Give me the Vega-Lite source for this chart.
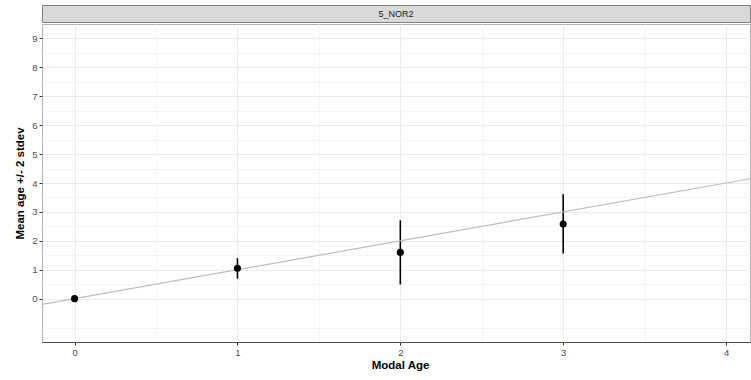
{
  "$schema": "https://vega.github.io/schema/vega-lite/v6.json",
  "padding": {"left": 14, "top": 4, "right": 0, "bottom": 0},
  "autosize": {"type": "pad"},
  "config": {
    "font": "Liberation Sans",
    "concat": {"spacing": 0},
    "view": {"stroke": null}
  },
  "spacing": 0,
  "vconcat": [
    {
      "width": 708,
      "height": 17,
      "data": {"values": [{"panel": "5_NOR2"}]},
      "view": {"fill": "#d9d9d9", "stroke": "#7f7f7f", "strokeWidth": 1},
      "mark": {"type": "text", "fontSize": 9, "color": "#1a1a1a", "baseline": "middle"},
      "encoding": {"text": {"field": "panel", "type": "nominal"}}
    },
    {
      "width": 708,
      "height": 318,
      "view": {"stroke": "#b3b3b3", "strokeWidth": 1},
      "data": {"values": [
        {"modal": 0, "mean": 0.0, "lo": -0.03, "hi": 0.03},
        {"modal": 1, "mean": 1.05, "lo": 0.69, "hi": 1.40},
        {"modal": 2, "mean": 1.60, "lo": 0.49, "hi": 2.71},
        {"modal": 3, "mean": 2.58, "lo": 1.56, "hi": 3.61}
      ]},
      "resolve": {"axis": {"x": "independent", "y": "independent"}},
      "layer": [
        {
          "mark": {"type": "rule", "color": "#000000", "strokeWidth": 1.6},
          "encoding": {
            "x": {
              "field": "modal", "type": "quantitative",
              "scale": {"domain": [-0.2, 4.147], "nice": false, "zero": false},
              "axis": {
                "orient": "bottom",
                "values": [0.5, 1.5, 2.5, 3.5],
                "labels": false, "ticks": false, "domain": false, "title": null,
                "grid": true, "gridColor": "#f4f4f4", "gridWidth": 1
              }
            },
            "y": {
              "field": "lo", "type": "quantitative",
              "scale": {"domain": [-1.5, 9.5], "nice": false, "zero": false},
              "axis": {
                "orient": "left",
                "values": [-1, 0.5, 1.5, 2.5, 3.5, 4.5, 5.5, 6.5, 7.5, 8.5],
                "labels": false, "ticks": false, "domain": false, "title": null,
                "grid": true, "gridColor": "#f4f4f4", "gridWidth": 1
              }
            },
            "y2": {"field": "hi"}
          }
        },
        {
          "data": {"values": [{"modal": -0.2, "mean": -0.2}, {"modal": 4.2, "mean": 4.2}]},
          "mark": {"type": "line", "color": "#bdbdbd", "strokeWidth": 1.2, "clip": true},
          "encoding": {
            "x": {"field": "modal", "type": "quantitative", "axis": null},
            "y": {"field": "mean", "type": "quantitative", "axis": null}
          }
        },
        {
          "mark": {"type": "point", "filled": true, "color": "#000000", "size": 50, "opacity": 1},
          "encoding": {
            "x": {
              "field": "modal", "type": "quantitative",
              "axis": {
                "orient": "bottom",
                "title": "Modal Age",
                "titleFontWeight": "bold",
                "titleFontSize": 11.5,
                "titleColor": "#000000",
                "titleX": 358,
                "titlePadding": 3,
                "values": [0, 1, 2, 3, 4],
                "format": "d",
                "labelFlush": false,
                "labelFontSize": 9.5,
                "labelColor": "#4d4d4d",
                "labelPadding": 2,
                "tickSize": 3,
                "tickColor": "#333333",
                "domainColor": "#4d4d4d",
                "domainWidth": 1,
                "grid": true,
                "gridColor": "#ebebeb",
                "gridWidth": 1
              }
            },
            "y": {
              "field": "mean", "type": "quantitative",
              "axis": {
                "orient": "left",
                "title": "Mean age +/- 2 stdev",
                "titleFontWeight": "bold",
                "titleFontSize": 11.5,
                "titleColor": "#000000",
                "titlePadding": 6,
                "values": [0, 1, 2, 3, 4, 5, 6, 7, 8, 9],
                "format": "d",
                "labelFlush": false,
                "labelFontSize": 9.5,
                "labelColor": "#4d4d4d",
                "labelPadding": 2,
                "tickSize": 3,
                "tickColor": "#333333",
                "domain": false,
                "grid": true,
                "gridColor": "#ebebeb",
                "gridWidth": 1
              }
            }
          }
        }
      ]
    }
  ]
}
